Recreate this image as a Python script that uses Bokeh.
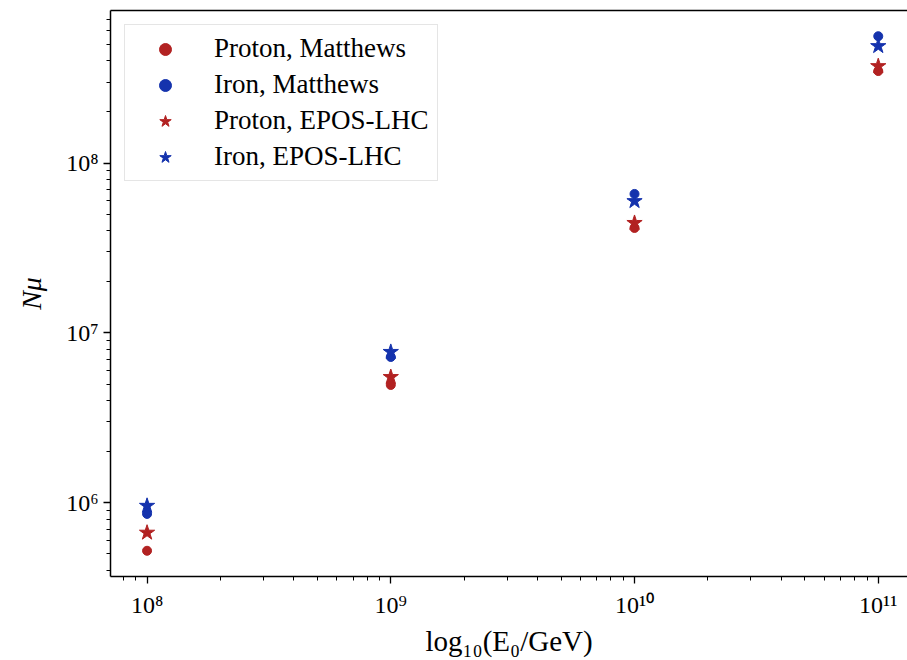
import math
import numpy as np
from bokeh.plotting import figure
from bokeh.models import FixedTicker, LogAxis
from bokeh.embed import file_html
from bokeh.resources import INLINE

# Primary energies (GeV) and muon numbers for each primary / model
energies = [1e8, 1e9, 1e10, 1e11]
proton_matthews = [5.22e5, 4.94e6, 4.15e7, 3.48e8]
iron_matthews = [8.6e5, 7.22e6, 6.58e7, 5.58e8]
proton_epos = [6.67e5, 5.5e6, 4.44e7, 3.72e8]
iron_epos = [9.6e5, 7.73e6, 5.97e7, 4.88e8]

x_ticks = [1e8, 1e9, 1e10, 1e11]
x_tick_labels = ["10⁸", "10⁹", "10¹⁰", "10¹¹"]
y_ticks = [1e6, 1e7, 1e8]
y_tick_labels = ["10⁶", "10⁷", "10⁸"]

RED = "#b22222"
BLUE = "#1533ad"
FONT = "Liberation Serif"

# log-space padding around the data
lx = np.log10(energies)
ly = np.log10(proton_matthews + iron_matthews + proton_epos + iron_epos)
sx = lx.max() - lx.min()
sy = ly.max() - ly.min()
x_range = (10 ** (lx.min() - 0.05 * sx), 10 ** (lx.max() + 0.04 * sx))
y_range = (10 ** (ly.min() - 0.05 * sy), 10 ** (ly.max() + 0.05 * sy))

p = figure(width=907, height=660, x_axis_type="log", y_axis_type="log",
           x_range=x_range, y_range=y_range,
           output_backend="svg", toolbar_location=None,
           min_border_left=110, min_border_right=0,
           min_border_top=10, min_border_bottom=84)
p.outline_line_color = None
p.xgrid.visible = False
p.ygrid.visible = False
p.background_fill_color = "white"
p.border_fill_color = "white"


def minor_ticks(lo, hi):
    out = []
    for e in range(int(math.floor(math.log10(lo))), int(math.ceil(math.log10(hi))) + 1):
        for m in range(2, 10):
            v = m * 10 ** e
            if lo <= v <= hi:
                out.append(v)
    return out


p.xaxis.ticker = FixedTicker(ticks=x_ticks, minor_ticks=minor_ticks(*x_range))
p.yaxis.ticker = FixedTicker(ticks=y_ticks, minor_ticks=minor_ticks(*y_range))
p.xaxis.major_label_overrides = dict(zip(x_ticks, x_tick_labels))
p.yaxis.major_label_overrides = dict(zip(y_ticks, y_tick_labels))

for ax in (p.xaxis[0], p.yaxis[0]):
    ax.axis_line_width = 1.5
    ax.axis_line_color = "black"
    ax.major_tick_line_width = 1.3
    ax.minor_tick_line_width = 1.0
    ax.major_tick_in = 0
    ax.major_tick_out = 7
    ax.minor_tick_in = 0
    ax.minor_tick_out = 4
    ax.major_label_text_font = FONT
    ax.major_label_text_font_size = "24px"
    ax.major_label_text_color = "black"

p.xaxis.major_label_standoff = 8
p.yaxis.major_label_standoff = 5

p.xaxis.axis_label = "log₁₀(E₀/GeV)"
p.xaxis.axis_label_text_font = FONT
p.xaxis.axis_label_text_font_size = "29px"
p.xaxis.axis_label_text_font_style = "normal"
p.xaxis.axis_label_text_color = "black"
p.xaxis.axis_label_standoff = 4

p.yaxis.axis_label = "Nμ"
p.yaxis.axis_label_text_font = FONT
p.yaxis.axis_label_text_font_size = "28px"
p.yaxis.axis_label_text_font_style = "italic"
p.yaxis.axis_label_text_color = "black"
p.yaxis.axis_label_standoff = 16

# top spine
top = LogAxis(ticker=FixedTicker(ticks=[]), axis_line_width=1.5,
              axis_line_color="black", major_tick_out=0, major_tick_in=0,
              minor_tick_out=0, minor_tick_in=0, major_label_standoff=0)
p.add_layout(top, "above")

p.scatter(energies, proton_matthews, marker="circle", size=9, color=RED,
          legend_label="Proton, Matthews")
p.scatter(energies, iron_matthews, marker="circle", size=9, color=BLUE,
          legend_label="Iron, Matthews")
p.scatter(energies, proton_epos, marker="star", size=16, color=RED,
          legend_label="Proton, EPOS-LHC")
p.scatter(energies, iron_epos, marker="star", size=16, color=BLUE,
          legend_label="Iron, EPOS-LHC")

lg = p.legend[0]
lg.location = "top_left"
lg.margin = 14
lg.padding = 8
lg.spacing = 5
lg.glyph_width = 64
lg.glyph_height = 30
lg.label_height = 30
lg.label_standoff = 17
lg.label_text_font = FONT
lg.label_text_font_size = "27px"
lg.label_text_color = "black"
lg.border_line_color = "#cccccc"
lg.border_line_width = 1.5
lg.background_fill_alpha = 0.8

open("out.html", "w").write(file_html(p, INLINE))
